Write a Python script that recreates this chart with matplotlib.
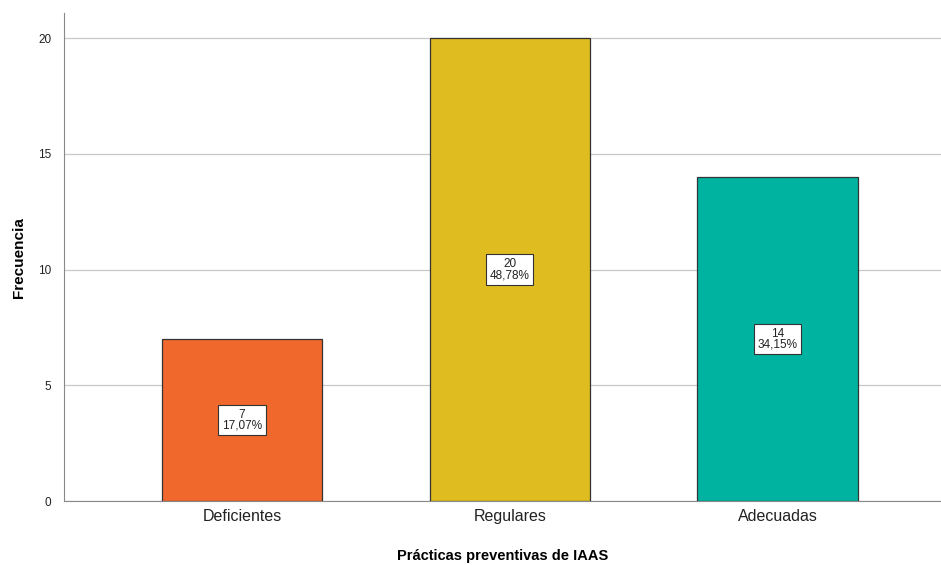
# frecuencia de prácticas preventivas de IAAS

import matplotlib.pyplot as plt

plt.rcParams['font.family'] = ['Liberation Sans', 'DejaVu Sans']

categorias = ['Deficientes', 'Regulares', 'Adecuadas']
frecuencias = [7, 20, 14]
porcentajes = ['17,07%', '48,78%', '34,15%']
colores = ['#F1682D', '#DFBC1F', '#00B2A0']

fig = plt.figure(figsize=(9.41, 5.65), dpi=100)
ax = fig.add_axes([0.068, 0.113, 0.932, 0.864])

x = range(len(categorias))
ax.bar(x, frecuencias, width=0.6, color=colores, edgecolor='#333333', linewidth=0.9, zorder=3)

# etiquetas con valor y porcentaje en el centro de cada barra
for i, (f, p) in enumerate(zip(frecuencias, porcentajes)):
    ax.text(i, f / 2, f'{f}\n{p}', ha='center', va='center', fontsize=8.5,
            linespacing=0.9, color='#222222', zorder=4,
            bbox=dict(boxstyle='square,pad=0.3', facecolor='white', edgecolor='#333333', linewidth=0.8))

ax.set_xlim(-0.665, 2.61)
ax.set_ylim(0, 21.08)
ax.set_yticks([0, 5, 10, 15, 20])
ax.set_xticks(list(x))
ax.set_xticklabels(categorias, fontsize=11.5, color='#222222')
ax.tick_params(axis='y', length=0, labelsize=8.5, pad=9, colors='#222222')
ax.tick_params(axis='x', length=0, pad=6)

ax.grid(axis='y', color='#C8C8C8', linewidth=0.9, zorder=0)
ax.spines['top'].set_visible(False)
ax.spines['right'].set_visible(False)
ax.spines['left'].set_color('#888888')
ax.spines['bottom'].set_color('#888888')

ax.set_ylabel('Frecuencia', fontsize=11, fontweight='bold', labelpad=9)
ax.set_xlabel('Prácticas preventivas de IAAS', fontsize=10.5, fontweight='bold', labelpad=18)

fig.savefig('out.png', dpi=100)
